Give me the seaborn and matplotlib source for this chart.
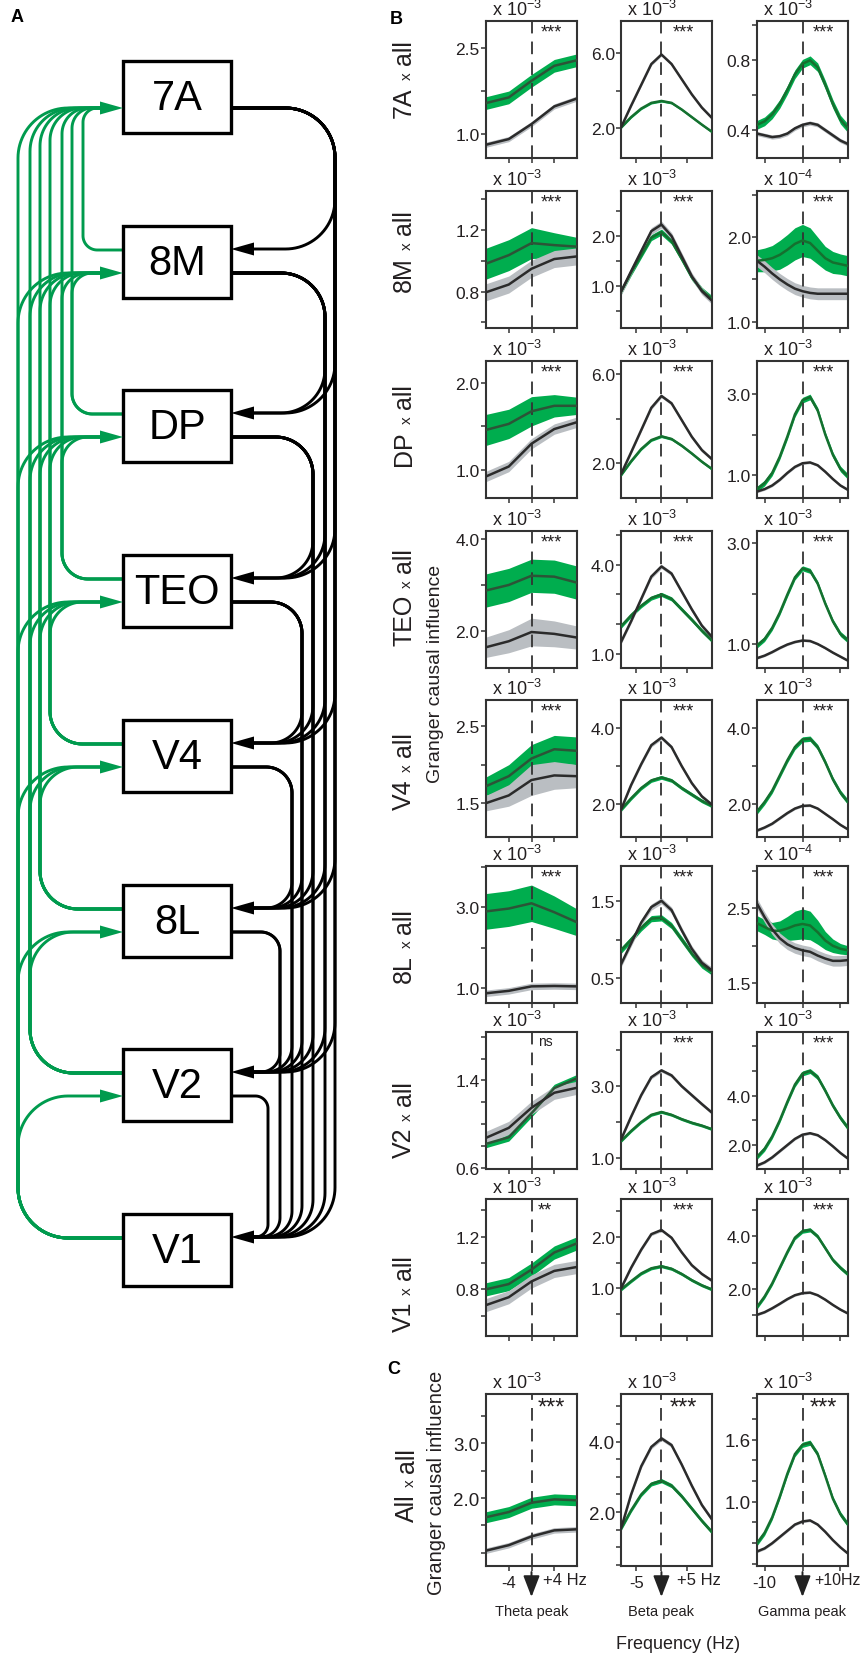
import numpy as np
import matplotlib
matplotlib.use("Agg")
import matplotlib.pyplot as plt
import seaborn as sns
from matplotlib.patches import Rectangle, Polygon

# --- data (units: x 10^exp, see exponents) ---
areas = ['7A', '8M', 'DP', 'TEO', 'V4', '8L', 'V2', 'V1', 'All']

theta_hz = [-8, -4, 0, 4, 8]
beta_hz = [-8, -6, -4, -2, 0, 2, 4, 6, 8, 10]
gamma_hz = [-12, -10, -8, -6, -4, -2, 0, 2, 4, 6, 8, 10, 12]

# theta peak column (grey = one direction, green = other)
theta_gray = [
    [0.815, 0.913, 1.173, 1.479, 1.617],
    [0.795, 0.845, 0.947, 1.01, 1.027],
    [0.92, 1.035, 1.30, 1.47, 1.55],
    [1.65, 1.78, 1.98, 1.94, 1.86],
    [1.50, 1.60, 1.80, 1.86, 1.85],
    [0.88, 0.94, 1.05, 1.06, 1.05],
    [0.875, 0.966, 1.15, 1.287, 1.333],
    [0.68, 0.74, 0.86, 0.94, 0.97],
    [1.04, 1.14, 1.30, 1.41, 1.43],
]
theta_gray_sem = [0.045, 0.055, 0.06, [0.22, 0.25, 0.3, 0.28, 0.25],
                  [0.1, 0.14, 0.2, 0.18, 0.15], 0.08, 0.06, 0.05, 0.05]
theta_green = [
    [1.537, 1.635, 1.923, 2.183, 2.28],
    [0.98, 1.035, 1.113, 1.10, 1.09],
    [1.46, 1.53, 1.676, 1.74, 1.74],
    [2.88, 3.0, 3.2, 3.18, 3.05],
    [1.72, 1.85, 2.08, 2.2, 2.18],
    [2.9, 2.97, 3.1, 2.88, 2.63],
    [0.82, 0.88, 1.1, 1.33, 1.42],
    [0.8, 0.84, 0.95, 1.08, 1.15],
    [1.65, 1.745, 1.915, 1.976, 1.96],
]
theta_green_sem = [0.11, [0.1, 0.1, 0.1, 0.08, 0.06], [0.18, 0.17, 0.17, 0.13, 0.1], 0.36,
                   [0.12, 0.15, 0.18, 0.18, 0.18], [0.44, 0.44, 0.45, 0.4, 0.33], 0.035, 0.05, 0.1]

# beta peak column
beta_gray = [
    [2.05, 3.2, 4.3, 5.4, 5.9, 5.4, 4.6, 3.8, 3.1, 2.55],
    [0.89, 1.3, 1.7, 2.1, 2.23, 2.0, 1.6, 1.2, 0.9, 0.71],
    [1.52, 2.5, 3.5, 4.5, 5.03, 4.7, 3.95, 3.2, 2.6, 2.19],
    [1.4, 2.1, 2.85, 3.6, 3.94, 3.7, 3.1, 2.5, 1.95, 1.57],
    [1.85, 2.5, 3.05, 3.55, 3.75, 3.5, 3.0, 2.55, 2.2, 1.98],
    [0.68, 0.95, 1.22, 1.42, 1.5, 1.38, 1.12, 0.88, 0.7, 0.6],
    [1.51, 2.15, 2.75, 3.25, 3.44, 3.3, 3.0, 2.75, 2.5, 2.26],
    [1.0, 1.4, 1.75, 2.05, 2.13, 1.98, 1.7, 1.45, 1.28, 1.15],
    [1.53, 2.5, 3.3, 3.85, 4.09, 3.9, 3.35, 2.75, 2.2, 1.79],
]
beta_gray_sem = [0.08, 0.07, 0.08, 0.07, 0.05, 0.04, 0.05, 0.03, 0.06]
beta_green = [
    [2.05, 2.6, 3.05, 3.35, 3.45, 3.35, 3.0, 2.6, 2.2, 1.82],
    [0.89, 1.27, 1.62, 1.97, 2.08, 1.9, 1.55, 1.18, 0.92, 0.75],
    [1.48, 2.1, 2.65, 3.05, 3.22, 3.1, 2.8, 2.45, 2.08, 1.75],
    [1.93, 2.3, 2.62, 2.88, 3.0, 2.85, 2.5, 2.15, 1.78, 1.45],
    [1.85, 2.15, 2.42, 2.62, 2.7, 2.62, 2.42, 2.25, 2.08, 1.95],
    [0.86, 1.0, 1.15, 1.27, 1.28, 1.18, 1.0, 0.82, 0.67, 0.58],
    [1.47, 1.75, 2.0, 2.2, 2.28, 2.2, 2.08, 1.98, 1.9, 1.8],
    [0.98, 1.14, 1.29, 1.39, 1.43, 1.38, 1.28, 1.16, 1.06, 0.98],
    [1.53, 2.05, 2.5, 2.8, 2.89, 2.75, 2.45, 2.1, 1.75, 1.43],
]
beta_green_sem = [0.06, 0.06, 0.06, 0.07, 0.05, 0.04, 0.04, 0.03, 0.06]

# gamma peak column
gamma_gray = [
    [0.38, 0.37, 0.36, 0.365, 0.38, 0.41, 0.43, 0.44, 0.43, 0.40, 0.37, 0.34, 0.32],
    [1.72, 1.65, 1.57, 1.5, 1.44, 1.39, 1.36, 1.34, 1.33, 1.33, 1.33, 1.33, 1.33],
    [0.59, 0.65, 0.74, 0.88, 1.05, 1.2, 1.29, 1.31, 1.24, 1.08, 0.9, 0.74, 0.63],
    [0.72, 0.77, 0.84, 0.92, 0.99, 1.04, 1.07, 1.06, 1.0, 0.92, 0.83, 0.75, 0.67],
    [1.3, 1.38, 1.48, 1.62, 1.76, 1.88, 1.95, 1.96, 1.88, 1.74, 1.6, 1.45, 1.33],
    [2.56, 2.38, 2.22, 2.1, 2.02, 1.97, 1.94, 1.92, 1.87, 1.83, 1.8, 1.8, 1.81],
    [1.17, 1.3, 1.5, 1.75, 2.0, 2.25, 2.42, 2.48, 2.4, 2.2, 1.95, 1.68, 1.45],
    [1.0, 1.1, 1.25, 1.42, 1.6, 1.75, 1.83, 1.85, 1.75, 1.58, 1.38, 1.2, 1.05],
    [0.52, 0.55, 0.6, 0.66, 0.72, 0.78, 0.81, 0.82, 0.78, 0.71, 0.63, 0.56, 0.5],
]
gamma_gray_sem = [0.012, 0.07, 0.03, 0.02, 0.03, 0.07, 0.05, 0.04, 0.012]
gamma_green = [
    [0.43, 0.45, 0.49, 0.55, 0.63, 0.72, 0.78, 0.80, 0.76, 0.66, 0.55, 0.46, 0.41],
    [1.72, 1.73, 1.75, 1.79, 1.85, 1.92, 1.96, 1.93, 1.84, 1.75, 1.7, 1.68, 1.66],
    [0.65, 0.8, 1.05, 1.45, 1.95, 2.5, 2.85, 2.93, 2.6, 2.0, 1.5, 1.15, 0.96],
    [0.97, 1.1, 1.32, 1.62, 1.98, 2.32, 2.5, 2.45, 2.2, 1.8, 1.45, 1.2, 1.07],
    [1.8, 2.05, 2.35, 2.75, 3.15, 3.5, 3.7, 3.72, 3.5, 3.1, 2.65, 2.3, 2.05],
    [2.3, 2.25, 2.2, 2.2, 2.23, 2.27, 2.29, 2.27, 2.18, 2.07, 2.0, 1.96, 1.94],
    [1.52, 1.85, 2.35, 3.0, 3.75, 4.45, 4.9, 5.0, 4.75, 4.2, 3.6, 3.1, 2.69],
    [1.3, 1.7, 2.2, 2.8, 3.4, 3.95, 4.2, 4.25, 4.0, 3.55, 3.1, 2.8, 2.55],
    [0.6, 0.7, 0.85, 1.05, 1.27, 1.46, 1.55, 1.57, 1.46, 1.25, 1.03, 0.88, 0.78],
]
gamma_green_sem = [0.025,
                   [0.13, 0.14, 0.15, 0.17, 0.18, 0.19, 0.19, 0.18, 0.16, 0.14, 0.13, 0.12, 0.12],
                   0.07, 0.05, 0.07,
                   [0.1, 0.1, 0.11, 0.13, 0.16, 0.19, 0.2, 0.19, 0.16, 0.12, 0.09, 0.07, 0.06],
                   0.1, 0.08, 0.025]

# axis ranges and labelled ticks
theta_ylim = [(0.585, 2.96), (0.564, 1.45), (0.67, 2.26), (1.2, 4.17), (1.06, 2.84),
              (0.64, 4.02), (0.59, 1.843), (0.445, 1.487), (0.76, 3.9)]
theta_yticks = [[1.0, 2.5], [0.8, 1.2], [1.0, 2.0], [2.0, 4.0], [1.5, 2.5],
                [1.0, 3.0], [0.6, 1.4], [0.8, 1.2], [2.0, 3.0]]
theta_ystep = [0.75, 0.2, 0.5, 1.0, 0.5, 1.0, 0.2, 0.2, 0.5]
beta_ylim = [(0.44, 7.67), (0.167, 2.9), (0.45, 6.6), (0.53, 5.13), (1.13, 4.74),
             (0.18, 1.95), (0.69, 4.51), (0.08, 2.73), (0.47, 5.35)]
beta_yticks = [[2.0, 6.0], [1.0, 2.0], [2.0, 6.0], [1.0, 4.0], [2.0, 4.0],
               [0.5, 1.5], [1.0, 3.0], [1.0, 2.0], [2.0, 4.0]]
beta_ystep = [2.0, 0.5, 2.0, 1.0, 1.0, 0.5, 1.0, 0.5, 0.5]
gamma_ylim = [(0.24, 1.025), (0.925, 2.545), (0.43, 3.82), (0.525, 3.24), (1.13, 4.74),
              (1.24, 3.06), (1.03, 6.58), (0.19, 5.43), (0.38, 2.04)]
gamma_yticks = [[0.4, 0.8], [1.0, 2.0], [1.0, 3.0], [1.0, 3.0], [2.0, 4.0],
                [1.5, 2.5], [2.0, 4.0], [2.0, 4.0], [1.0, 1.6]]
gamma_ystep = [0.2, 0.5, 1.0, 1.0, 1.0, 0.5, 1.0, 1.0, 0.2]

exponents = [[-3, -3, -3], [-3, -3, -4], [-3, -3, -3], [-3, -3, -3], [-3, -3, -3],
             [-3, -3, -4], [-3, -3, -3], [-3, -3, -3], [-3, -3, -3]]
signif = [['***'] * 3] * 6 + [['ns', '***', '***'], ['**', '***', '***'], ['***'] * 3]

band_names = ['Theta peak', 'Beta peak', 'Gamma peak']
xticks = [[-4, 0, 4], [-5, 0, 5], [-10, 0, 10]]
tick_text = [('-4', '+4 Hz'), ('-5', '+5 Hz'), ('-10', '+10Hz')]

# --- style ---
sns.set_style('ticks')
plt.rcParams['font.family'] = ['Liberation Sans', 'DejaVu Sans']
plt.rcParams['mathtext.fontset'] = 'custom'
plt.rcParams['mathtext.rm'] = 'Liberation Sans'
plt.rcParams['mathtext.default'] = 'regular'

GREEN_FILL = '#00ad4e'
GREEN_LINE = ['#2c5437', '#15702f', '#15702f']
GRAY_FILL = '#babec2'
GRAY_LINE = '#2b2b2b'
AX_COL = '#333333'
TXT = '#231f20'
DIAG_GREEN = '#009b4e'

W, H = 860, 1656
fig = plt.figure(figsize=(W / 100, H / 100), dpi=100)


def px_rect(l, t, w, h):
    return [l / W, 1 - (t + h) / H, w / W, h / H]


# ---------------- panel A: network diagram ----------------
ax0 = fig.add_axes([0, 0, 1, 1])
ax0.set_xlim(0, W)
ax0.set_ylim(H, 0)
ax0.axis('off')

box_l, box_r, box_h = 123, 231, 72
box_tops = [62, 227, 391, 556, 721, 886, 1050, 1215]
ff_x = [335, 325, 313, 302, 292, 280, 268]   # black verticals, sources 7A..V2
fb_x = [83, 72, 62, 50, 40, 30, 18]          # green verticals, sources 8M..V1
ah_len, ah_w = 23, 6.5
th = np.linspace(0, np.pi / 2, 24)

for i in range(7):
    xs = ff_x[i]
    r = 0.55 * (xs - 245)
    y0 = box_tops[i] + 47
    for t in range(i + 1, 8):
        y1 = box_tops[t] + 23
        px = [box_r, xs - r] + list(xs - r + r * np.sin(th)) + list(xs - r + r * np.cos(th)) + [box_r + ah_len]
        py = [y0, y0] + list(y0 + r - r * np.cos(th)) + list(y1 - r + r * np.sin(th)) + [y1]
        ax0.plot(px, py, color='black', lw=2.1, solid_capstyle='butt', zorder=2)

for j in range(1, 8):
    xs = fb_x[j - 1]
    r = 0.55 * (109 - xs)
    y0 = box_tops[j] + 24
    for t in range(j):
        y1 = box_tops[t] + 47
        px = [box_l, xs + r] + list(xs + r - r * np.sin(th)) + list(xs + r - r * np.cos(th)) + [box_l - ah_len]
        py = [y0, y0] + list(y0 - r + r * np.cos(th)) + list(y1 + r - r * np.sin(th)) + [y1]
        ax0.plot(px, py, color=DIAG_GREEN, lw=2.1, solid_capstyle='butt', zorder=2)

for k, top in enumerate(box_tops):
    ax0.add_patch(Rectangle((box_l, top), box_r - box_l, box_h, fc='white', ec='black', lw=2.4, zorder=3))
    ax0.text((box_l + box_r) / 2, top + box_h / 2 + 1, areas[k], fontsize=30, ha='center', va='center',
             color='black', zorder=4)
    if k > 0:
        y = top + 23
        ax0.add_patch(Polygon([[box_r, y], [box_r + ah_len, y - ah_w], [box_r + ah_len, y + ah_w]],
                              closed=True, fc='black', ec='none', zorder=4))
    if k < 7:
        y = top + 47
        ax0.add_patch(Polygon([[box_l, y], [box_l - ah_len, y - ah_w], [box_l - ah_len, y + ah_w]],
                              closed=True, fc=DIAG_GREEN, ec='none', zorder=4))

# ---------------- panels B and C ----------------
col_left = [486, 621, 757]
col_w = 91
row_top = [22, 192, 362, 532, 701, 867, 1033, 1200, 1395]
row_h = [137] * 8 + [172]
star_x = [0.72, 0.68, 0.73]

cols = [
    (theta_hz, theta_gray, theta_gray_sem, theta_green, theta_green_sem, theta_ylim, theta_yticks, theta_ystep),
    (beta_hz, beta_gray, beta_gray_sem, beta_green, beta_green_sem, beta_ylim, beta_yticks, beta_ystep),
    (gamma_hz, gamma_gray, gamma_gray_sem, gamma_green, gamma_green_sem, gamma_ylim, gamma_yticks, gamma_ystep),
]


def tick_list(lo, hi, major, step):
    base = major[0]
    k0 = int(np.ceil((lo - base) / step - 1e-9))
    k1 = int(np.floor((hi - base) / step + 1e-9))
    vals = [round(base + k * step, 6) for k in range(k0, k1 + 1)]
    labs = [f'{v:.1f}' if any(abs(v - m) < 1e-6 for m in major) else '' for v in vals]
    return vals, labs


def draw_band(ax, hz, mean, sem, fill, line, z):
    mean = np.asarray(mean, float)
    sem = np.broadcast_to(np.asarray(sem, float), mean.shape)
    ax.fill_between(hz, mean - sem, mean + sem, color=fill, lw=0, zorder=z)
    sns.lineplot(x=hz, y=mean, ax=ax, color=line, lw=1.8, zorder=z + 3)


for r in range(9):
    big = r == 8
    for c in range(3):
        hz, g_m, g_s, gr_m, gr_s, ylims, yt, ystep = cols[c]
        ax = fig.add_axes(px_rect(col_left[c], row_top[r], col_w, row_h[r]))
        draw_band(ax, hz, gr_m[r], gr_s[r], GREEN_FILL, GREEN_LINE[c], 1)
        draw_band(ax, hz, g_m[r], g_s[r], GRAY_FILL, GRAY_LINE, 2)
        ax.axvline(0, color=AX_COL, lw=1.3, ls=(0, (7, 4.5)), zorder=3)
        ax.set_xlim(hz[0], hz[-1])
        ax.set_ylim(*ylims[r])
        vals, labs = tick_list(*ylims[r], yt[r], ystep[r])
        ax.set_yticks(vals)
        ax.set_yticklabels(labs)
        ax.set_xticks(xticks[c])
        if big:
            ax.set_xticklabels([tick_text[c][0], '', ''])
            off = [-11, -9.5, -26][c]
            ax.annotate(tick_text[c][1], xy=(xticks[c][2], 0), xycoords=('data', 'axes fraction'),
                        xytext=(off * 0.72, -6 * 0.72), textcoords='offset points',
                        ha='left', va='top', fontsize=12 if c < 2 else 11.5, color=TXT,
                        annotation_clip=False)
        else:
            ax.set_xticklabels(['', '', ''])
        ax.set_xlabel('')
        ax.set_ylabel('')
        for sp in ax.spines.values():
            sp.set_visible(True)
            sp.set_color(AX_COL)
            sp.set_linewidth(1.5)
        ax.tick_params(direction='out', length=3.5, width=1.1, color=AX_COL,
                       labelsize=13.5 if big else 12.5, labelcolor=TXT, pad=1)
        ax.tick_params(axis='x', pad=3, labelsize=12)
        ax.annotate(rf'x $10^{{{exponents[r][c]}}}$', xy=(0, 1), xycoords='axes fraction',
                    xytext=(6 * 0.72, 2 * 0.72), textcoords='offset points',
                    ha='left', va='bottom', fontsize=13, color=TXT)
        s = signif[r][c]
        ax.text(star_x[c] if s == '***' else 0.65, 0.985, s, transform=ax.transAxes, ha='center', va='top',
                fontsize=(17 if big else 13) if s != 'ns' else 10, color=TXT, zorder=6)
        if big:
            ax.annotate('', xy=(0, -0.18), xycoords=('data', 'axes fraction'),
                        xytext=(0, -0.035), textcoords=('data', 'axes fraction'),
                        arrowprops=dict(arrowstyle='-|>,head_length=1.3,head_width=0.5',
                                        color='#222222', lw=1.4, mutation_scale=10,
                                        shrinkA=0, shrinkB=0),
                        annotation_clip=False)
            ax.annotate(band_names[c], xy=(0, -0.262), xycoords=('data', 'axes fraction'),
                        ha='center', va='center', fontsize=10.5, color=TXT, annotation_clip=False)

# ---------------- labels ----------------
rend = fig.canvas.get_renderer()


def area_label(cx, cy, name, fs, fs_small):
    parts = [(name, fs), ('x', fs_small), ('all', fs)]
    objs, lens = [], []
    for s, f in parts:
        t = fig.text(0, 0, s, fontsize=f, rotation=90, rotation_mode='anchor',
                     ha='left', va='baseline', color=TXT)
        objs.append(t)
        lens.append(t.get_window_extent(renderer=rend).height)
    gap = 0.28 * fs * 100 / 72
    total = sum(lens) + 2 * gap
    base_x = cx + 0.36 * fs * 100 / 72
    y = cy + total / 2
    for t, L in zip(objs, lens):
        t.set_position((base_x / W, 1 - y / H))
        y -= L + gap


label_y = [79, 251, 425, 597, 771, 946, 1120, 1294, 1485]
for r in range(9):
    area_label(405 if r == 8 else 402, label_y[r], areas[r], 18, 11)

fig.text(435 / W, 1 - 674 / H, 'Granger causal influence', rotation=90, ha='center', va='center',
         fontsize=14, color=TXT)
fig.text(436 / W, 1 - 1483 / H, 'Granger causal influence', rotation=90, ha='center', va='center',
         fontsize=14.5, color=TXT)
fig.text(678 / W, 1 - 1645 / H, 'Frequency (Hz)', ha='center', va='center', fontsize=13, color=TXT)

for letter, (x, y) in zip('ABC', [(17, 18), (396, 19), (394, 1370)]):
    fig.text(x / W, 1 - y / H, letter, ha='center', va='center', fontsize=13, fontweight='bold', color='black')

fig.savefig('out.png', dpi=100)
